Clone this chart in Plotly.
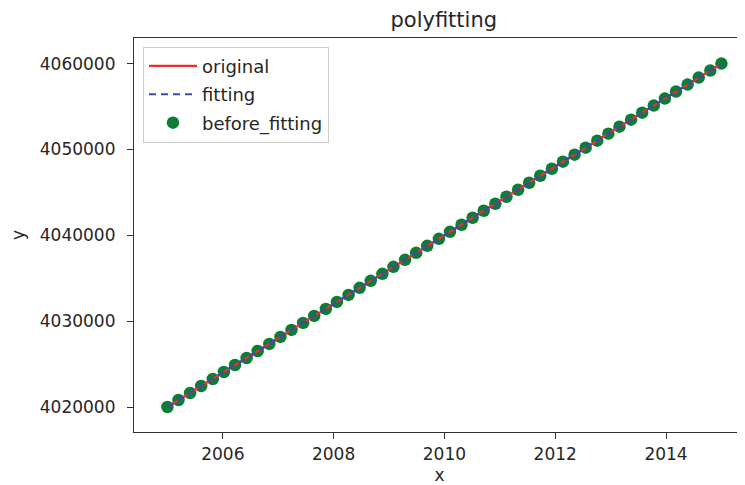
import plotly.graph_objects as go

# Data (50 evenly spaced samples, 2005 -> 2015)
x_values = [2005.00, 2005.20, 2005.41, 2005.61, 2005.82, 2006.02, 2006.22, 2006.43, 2006.63, 2006.84,
            2007.04, 2007.24, 2007.45, 2007.65, 2007.86, 2008.06, 2008.27, 2008.47, 2008.67, 2008.88,
            2009.08, 2009.29, 2009.49, 2009.69, 2009.90, 2010.10, 2010.31, 2010.51, 2010.71, 2010.92,
            2011.12, 2011.33, 2011.53, 2011.73, 2011.94, 2012.14, 2012.35, 2012.55, 2012.76, 2012.96,
            2013.16, 2013.37, 2013.57, 2013.78, 2013.98, 2014.18, 2014.39, 2014.59, 2014.80, 2015.00]

y_original = [4020000, 4020816, 4021633, 4022449, 4023265, 4024082, 4024898, 4025714, 4026531, 4027347,
              4028163, 4028980, 4029796, 4030612, 4031429, 4032245, 4033061, 4033878, 4034694, 4035510,
              4036327, 4037143, 4037959, 4038776, 4039592, 4040408, 4041224, 4042041, 4042857, 4043673,
              4044490, 4045306, 4046122, 4046939, 4047755, 4048571, 4049388, 4050204, 4051020, 4051837,
              4052653, 4053469, 4054286, 4055102, 4055918, 4056735, 4057551, 4058367, 4059184, 4060000]

y_fitted = list(y_original)
y_before_fitting = list(y_original)

x_ticks = [2006, 2008, 2010, 2012, 2014]
y_ticks = [4020000, 4030000, 4040000, 4050000, 4060000]

FONT = "DejaVu Sans"
TXT = "#262626"

# page body adds an 8px offset, so the figure is 8px smaller in each direction
W, H = 737, 477

fig = go.Figure()

fig.add_trace(go.Scatter(
    x=x_values, y=y_before_fitting, mode="markers", name="before_fitting",
    marker=dict(color="#0b7d35", size=12.5, line=dict(width=0)),
    legendrank=3, legendgroup="c",
))
fig.add_trace(go.Scatter(
    x=x_values, y=y_original, mode="lines", name="original",
    line=dict(color="#ee2e2e", width=2.2),
    legendrank=1, legendgroup="a",
))
fig.add_trace(go.Scatter(
    x=x_values, y=y_fitted, mode="lines", name="fitting",
    line=dict(color="#3a48b4", width=2.2, dash="7px,5px"),
    legendrank=2, legendgroup="b",
))

axis_common = dict(
    showgrid=False, zeroline=False, showline=True, linecolor="#333333", linewidth=1.2,
    ticks="outside", ticklen=6, tickwidth=1.2, tickcolor="#333333",
    tickfont=dict(family=FONT, size=17, color=TXT), automargin=False,
)

fig.update_layout(
    width=W, height=H, autosize=False,
    margin=dict(l=126, r=0, t=30, b=53, pad=0, autoexpand=False),
    paper_bgcolor="white", plot_bgcolor="white",
    font=dict(family=FONT, size=17, color=TXT),
    title=dict(text="polyfitting", font=dict(family=FONT, size=21, color=TXT),
               x=0.507, xanchor="center", xref="paper",
               y=1 - 12 / H, yanchor="middle", yref="container", automargin=False),
    xaxis=dict(**axis_common, range=[2004.397, 2015.426], tickvals=x_ticks,
               ticktext=[str(t) for t in x_ticks], mirror=True, ticklabelstandoff=0,
               title=dict(text="x", font=dict(family=FONT, size=17, color=TXT), standoff=12)),
    yaxis=dict(**axis_common, range=[4017093, 4062977], tickvals=y_ticks,
               ticktext=[str(t) for t in y_ticks], mirror=False, ticklabelstandoff=8,
               title=dict(text="y", font=dict(family=FONT, size=17, color=TXT), standoff=16)),
    legend=dict(x=0.0147, y=0.978, xanchor="left", yanchor="top",
                bgcolor="rgba(255,255,255,0.8)", bordercolor="#cccccc", borderwidth=1,
                font=dict(family=FONT, size=18, color=TXT), traceorder="grouped",
                itemwidth=48, tracegroupgap=2),
    showlegend=True,
)

fig.write_html("out.html")
